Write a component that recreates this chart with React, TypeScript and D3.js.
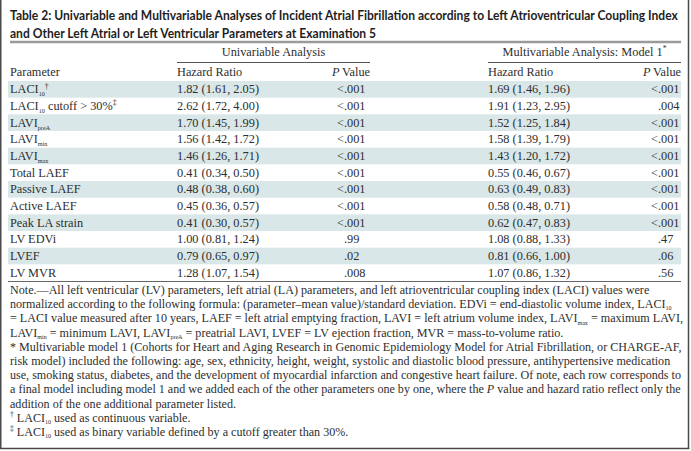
import React, { useLayoutEffect, useRef, useState } from 'react';
import * as d3 from 'd3';

type Seg = { t: string; sub?: boolean; sup?: boolean; it?: boolean };

// ---------- data ----------
const titleLines = [
  'Table 2: Univariable and Multivariable Analyses of Incident Atrial Fibrillation according to Left Atrioventricular Coupling Index',
  'and Other Left Atrial or Left Ventricular Parameters at Examination 5',
];

const parameters: Seg[][] = [
  [{ t: 'LACI' }, { t: '10', sub: true }, { t: '†', sup: true }],
  [{ t: 'LACI' }, { t: '10', sub: true }, { t: ' cutoff > 30%' }, { t: '‡', sup: true }],
  [{ t: 'LAVI' }, { t: 'preA', sub: true }],
  [{ t: 'LAVI' }, { t: 'min', sub: true }],
  [{ t: 'LAVI' }, { t: 'max', sub: true }],
  [{ t: 'Total LAEF' }],
  [{ t: 'Passive LAEF' }],
  [{ t: 'Active LAEF' }],
  [{ t: 'Peak LA strain' }],
  [{ t: 'LV EDVi' }],
  [{ t: 'LVEF' }],
  [{ t: 'LV MVR' }],
];

const uniHR = [
  '1.82 (1.61, 2.05)', '2.62 (1.72, 4.00)', '1.70 (1.45, 1.99)', '1.56 (1.42, 1.72)',
  '1.46 (1.26, 1.71)', '0.41 (0.34, 0.50)', '0.48 (0.38, 0.60)', '0.45 (0.36, 0.57)',
  '0.41 (0.30, 0.57)', '1.00 (0.81, 1.24)', '0.79 (0.65, 0.97)', '1.28 (1.07, 1.54)',
];
const uniP = ['<.001', '<.001', '<.001', '<.001', '<.001', '<.001', '<.001', '<.001', '<.001', '.99', '.02', '.008'];

const multiHR = [
  '1.69 (1.46, 1.96)', '1.91 (1.23, 2.95)', '1.52 (1.25, 1.84)', '1.58 (1.39, 1.79)',
  '1.43 (1.20, 1.72)', '0.55 (0.46, 0.67)', '0.63 (0.49, 0.83)', '0.58 (0.48, 0.71)',
  '0.62 (0.47, 0.83)', '1.08 (0.88, 1.33)', '0.81 (0.66, 1.00)', '1.07 (0.86, 1.32)',
];
const multiP = ['<.001', '.004', '<.001', '<.001', '<.001', '<.001', '<.001', '<.001', '<.001', '.47', '.06', '.56'];

const noteLines: Seg[][] = [
  [{ t: 'Note.—All left ventricular (LV) parameters, left atrial (LA) parameters, and left atrioventricular coupling index (LACI) values were' }],
  [{ t: 'normalized according to the following formula: (parameter–mean value)/standard deviation. EDVi = end-diastolic volume index, LACI' }, { t: '10', sub: true }],
  [{ t: '= LACI value measured after 10 years, LAEF = left atrial emptying fraction, LAVI = left atrium volume index, LAVI' }, { t: 'max', sub: true }, { t: ' = maximum LAVI,' }],
  [{ t: 'LAVI' }, { t: 'min', sub: true }, { t: ' = minimum LAVI, LAVI' }, { t: 'preA', sub: true }, { t: ' = preatrial LAVI, LVEF = LV ejection fraction, MVR = mass-to-volume ratio.' }],
  [{ t: '* Multivariable model 1 (Cohorts for Heart and Aging Research in Genomic Epidemiology Model for Atrial Fibrillation, or CHARGE-AF,' }],
  [{ t: 'risk model) included the following: age, sex, ethnicity, height, weight, systolic and diastolic blood pressure, antihypertensive medication' }],
  [{ t: 'use, smoking status, diabetes, and the development of myocardial infarction and congestive heart failure. Of note, each row corresponds to' }],
  [{ t: 'a final model including model 1 and we added each of the other parameters one by one, where the ' }, { t: 'P', it: true }, { t: ' value and hazard ratio reflect only the' }],
  [{ t: 'addition of the one additional parameter listed.' }],
  [{ t: '†', sup: true }, { t: ' LACI' }, { t: '10', sub: true }, { t: ' used as continuous variable.' }],
  [{ t: '‡', sup: true }, { t: ' LACI' }, { t: '10', sub: true }, { t: ' used as binary variable defined by a cutoff greater than 30%.' }],
];

// ---------- layout ----------
const W = 691;
const H = 451;
const LEFT = 10;
const RIGHT = 681;
const COL_HR1 = 177;
const COL_P1_END = 370;
const COL_P1_DEC = 344;
const COL_HR2 = 488;
const COL_P2_END = 681;
const COL_P2_DEC = 658;
const SERIF = '"Liberation Serif", "Times New Roman", serif';
const SANS = 'Lato, "Open Sans", sans-serif';
const TEXT = '#2e2e2e';
const BAND = '#d9e7e8';
const FS = 12.3;
const NFS = 12.1;
const TITLE_W = 668;

function Rich({
  segs, x, y, size, anchor, subShift = 0.32,
}: { segs: Seg[]; x: number; y: number; size: number; anchor?: string; subShift?: number }) {
  let cur = 0;
  return (
    <text x={x} y={y} fontSize={size} textAnchor={anchor || 'start'} fill={TEXT} fontFamily={SERIF}>
      {segs.map((s, i) => {
        const target = s.sub ? size * subShift : s.sup ? -size * 0.38 : 0;
        const dy = target - cur;
        cur = target;
        const fs = s.sub ? size * 0.5 : s.sup ? size * 0.62 : size;
        return (
          <tspan key={i} dy={dy} fontSize={fs} fontStyle={s.it ? 'italic' : undefined}>
            {s.t}
          </tspan>
        );
      })}
    </text>
  );
}

function PVal({ v, dec, y }: { v: string; dec: number; y: number }) {
  const k = v.indexOf('.');
  const pre = v.slice(0, k);
  const rest = v.slice(k);
  return (
    <g fontFamily={SERIF} fontSize={FS} fill={TEXT}>
      {pre && <text x={dec} y={y} textAnchor="end">{pre}</text>}
      <text x={dec} y={y}>{rest}</text>
    </g>
  );
}

export default function App() {
  const titleRef = useRef<SVGTextElement>(null);
  const [sx, setSx] = useState(0.8);
  useLayoutEffect(() => {
    const el = titleRef.current;
    if (el) {
      const w = el.getComputedTextLength();
      if (w > 0) setSx(TITLE_W / w);
    }
  }, []);

  const rows = d3.range(parameters.length);
  const yRow = d3.scaleBand<number>().domain(rows).range([81, 281]).padding(0);
  const bw = yRow.bandwidth();
  const yNote = d3.scaleLinear().domain([0, noteLines.length - 1]).range([294, 436]);

  return (
    <svg width={W} height={H} style={{ position: 'absolute', left: 0, top: 0, background: '#fff' }}>
      <rect x={0} y={0} width={W} height={H} fill="#fff" />
      {/* title */}
      <g transform={`translate(${LEFT},0) scale(${sx},1)`}>
        {titleLines.map((t, i) => (
          <text
            key={i}
            ref={i === 0 ? titleRef : undefined}
            x={0}
            y={20 + i * 18}
            fontFamily={SANS}
            fontWeight={700}
            fontSize={13.5}
            fill="#1e1e1e"
          >
            {t}
          </text>
        ))}
      </g>
      <line x1={LEFT} x2={RIGHT} y1={42} y2={42} stroke="#9a9a9a" strokeWidth={2.5} />

      {/* group headers */}
      <text x={(COL_HR1 + COL_P1_END) / 2} y={56} textAnchor="middle" fontFamily={SERIF} fontSize={FS} fill={TEXT}>
        Univariable Analysis
      </text>
      <Rich
        segs={[{ t: 'Multivariable Analysis: Model 1' }, { t: '*', sup: true }]}
        x={(COL_HR2 + COL_P2_END) / 2}
        y={56}
        size={FS}
        anchor="middle"
      />
      <line x1={COL_HR1} x2={COL_P1_END} y1={62.5} y2={62.5} stroke="#555" strokeWidth={1} />
      <line x1={COL_HR2} x2={COL_P2_END} y1={62.5} y2={62.5} stroke="#555" strokeWidth={1} />

      {/* column headers */}
      <text x={LEFT} y={76} fontFamily={SERIF} fontSize={FS} fill={TEXT}>Parameter</text>
      <text x={COL_HR1} y={76} fontFamily={SERIF} fontSize={FS} fill={TEXT}>Hazard Ratio</text>
      <text x={COL_HR2} y={76} fontFamily={SERIF} fontSize={FS} fill={TEXT}>Hazard Ratio</text>
      {[COL_P1_END, COL_P2_END].map((x) => (
        <text key={x} x={x} y={76} textAnchor="end" fontFamily={SERIF} fontSize={FS} fill={TEXT}>
          <tspan fontStyle="italic">P</tspan>
          <tspan>{'\u2009Value'}</tspan>
        </text>
      ))}

      {/* rows */}
      {rows.map((i) => {
        const y0 = yRow(i) as number;
        const by = y0 + 12.3;
        return (
          <g key={i}>
            {i % 2 === 0 && <rect x={LEFT - 2} y={y0} width={RIGHT - LEFT + 2} height={bw} fill={BAND} />}
            <Rich segs={parameters[i]} x={LEFT} y={by} size={FS} subShift={0.26} />
            <text x={COL_HR1} y={by} fontFamily={SERIF} fontSize={FS} fill={TEXT}>{uniHR[i]}</text>
            <PVal v={uniP[i]} dec={COL_P1_DEC} y={by} />
            <text x={COL_HR2} y={by} fontFamily={SERIF} fontSize={FS} fill={TEXT}>{multiHR[i]}</text>
            <PVal v={multiP[i]} dec={COL_P2_DEC} y={by} />
          </g>
        );
      })}
      <line x1={LEFT - 2} x2={RIGHT} y1={281.5} y2={281.5} stroke="#666" strokeWidth={1} />

      {/* notes */}
      {noteLines.map((segs, i) => (
        <Rich key={i} segs={segs} x={LEFT} y={yNote(i)} size={NFS} subShift={0.18} />
      ))}

      {/* frame */}
      <line x1={0.75} x2={0.75} y1={0} y2={449} stroke="#4a4a4a" strokeWidth={1.5} />
      <line x1={688.5} x2={688.5} y1={0} y2={449} stroke="#4a4a4a" strokeWidth={1.5} />
      <line x1={0} x2={689.25} y1={448.5} y2={448.5} stroke="#4a4a4a" strokeWidth={1.5} />
    </svg>
  );
}
